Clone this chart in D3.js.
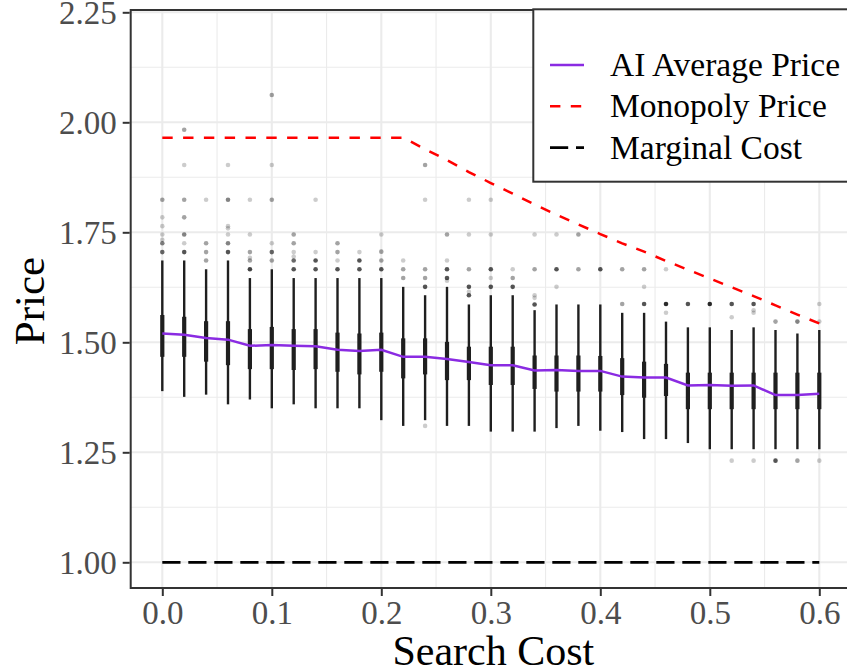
<!DOCTYPE html>
<html>
<head>
<meta charset="utf-8">
<script src="https://cdn.jsdelivr.net/npm/d3@7"></script>
<style>
  html, body { margin: 0; padding: 0; background: #fff; }
  svg { display: block; font-family: "Liberation Serif", "Times New Roman", serif; }
</style>
</head>
<body>
<svg id="chart" width="847" height="672"></svg>
<script>
// Search-cost grid
const searchCost = [0.00, 0.02, 0.04, 0.06, 0.08, 0.10, 0.12, 0.14, 0.16, 0.18, 0.20,
                    0.22, 0.24, 0.26, 0.28, 0.30, 0.32, 0.34, 0.36, 0.38, 0.40,
                    0.42, 0.44, 0.46, 0.48, 0.50, 0.52, 0.54, 0.56, 0.58, 0.60];

// Box-and-whisker summaries of AI prices at each search cost
const whiskerLow  = [1.389, 1.376, 1.381, 1.359, 1.370, 1.350, 1.359, 1.350, 1.350, 1.350, 1.323,
                     1.310, 1.323, 1.310, 1.310, 1.297, 1.297, 1.297, 1.305, 1.310, 1.299,
                     1.296, 1.280, 1.280, 1.271, 1.257, 1.257, 1.257, 1.257, 1.257, 1.257];
const boxLow      = [1.467, 1.467, 1.456, 1.448, 1.439, 1.439, 1.437, 1.439, 1.433, 1.427, 1.433,
                     1.418, 1.427, 1.414, 1.414, 1.403, 1.403, 1.394, 1.388, 1.388, 1.388,
                     1.380, 1.374, 1.378, 1.348, 1.348, 1.348, 1.348, 1.348, 1.348, 1.348];
const boxHigh     = [1.562, 1.558, 1.548, 1.548, 1.530, 1.535, 1.530, 1.530, 1.522, 1.520, 1.522,
                     1.509, 1.509, 1.501, 1.490, 1.490, 1.490, 1.470, 1.470, 1.470, 1.469,
                     1.464, 1.456, 1.451, 1.431, 1.431, 1.431, 1.431, 1.431, 1.431, 1.431];
const whiskerHigh = [1.686, 1.686, 1.666, 1.686, 1.646, 1.666, 1.646, 1.646, 1.646, 1.646, 1.646,
                     1.626, 1.607, 1.626, 1.586, 1.607, 1.607, 1.573, 1.586, 1.586, 1.586,
                     1.567, 1.567, 1.547, 1.534, 1.534, 1.528, 1.534, 1.528, 1.520, 1.528];

// Average AI price
const avgPrice = [1.520, 1.517, 1.510, 1.506, 1.492, 1.494, 1.492, 1.491, 1.483, 1.480, 1.483,
                  1.467, 1.467, 1.462, 1.455, 1.448, 1.448, 1.436, 1.437, 1.435, 1.435,
                  1.422, 1.420, 1.420, 1.402, 1.403, 1.401, 1.402, 1.380, 1.380, 1.383];

// Monopoly price
const monopolyPrice = [1.965, 1.965, 1.965, 1.965, 1.965, 1.965, 1.965, 1.965, 1.965, 1.965, 1.965,
                       1.965, 1.939, 1.914, 1.887, 1.862, 1.838, 1.813, 1.790, 1.768, 1.746,
                       1.725, 1.706, 1.685, 1.665, 1.645, 1.625, 1.605, 1.584, 1.563, 1.543];

const marginalCost = 1.0;

// Outlying prices: [search cost, price, number of overlapping observations]
const outliers = [
  [0.00, 1.824, 2], [0.00, 1.784, 1], [0.00, 1.764, 1], [0.00, 1.745, 1], [0.00, 1.733, 1], [0.00, 1.725, 3], [0.00, 1.705, 4],
  [0.02, 1.983, 2], [0.02, 1.903, 1], [0.02, 1.824, 2], [0.02, 1.784, 2], [0.02, 1.745, 3], [0.02, 1.725, 1], [0.02, 1.705, 5],
  [0.04, 1.824, 1], [0.04, 1.725, 2], [0.04, 1.705, 2], [0.04, 1.686, 2],
  [0.06, 1.903, 1], [0.06, 1.824, 3], [0.06, 1.764, 1], [0.06, 1.759, 1], [0.06, 1.745, 1], [0.06, 1.725, 3], [0.06, 1.705, 5],
  [0.08, 1.824, 1], [0.08, 1.745, 1], [0.08, 1.705, 2], [0.08, 1.692, 1], [0.08, 1.686, 2], [0.08, 1.666, 6],
  [0.10, 2.062, 2], [0.10, 1.903, 1], [0.10, 1.824, 2], [0.10, 1.725, 1], [0.10, 1.705, 4], [0.10, 1.686, 2],
  [0.12, 1.745, 2], [0.12, 1.725, 2], [0.12, 1.705, 1], [0.12, 1.695, 1], [0.12, 1.686, 4], [0.12, 1.666, 5],
  [0.14, 1.824, 1], [0.14, 1.705, 1], [0.14, 1.686, 5], [0.14, 1.666, 5],
  [0.16, 1.725, 2], [0.16, 1.705, 2], [0.16, 1.686, 1], [0.16, 1.666, 5],
  [0.18, 1.705, 1], [0.18, 1.686, 5], [0.18, 1.666, 5],
  [0.20, 1.745, 1], [0.20, 1.706, 2], [0.20, 1.686, 2], [0.20, 1.666, 5],
  [0.22, 1.686, 1], [0.22, 1.666, 2], [0.22, 1.646, 2],
  [0.24, 1.903, 2], [0.24, 1.824, 1], [0.24, 1.666, 2], [0.24, 1.646, 2], [0.24, 1.626, 5], [0.24, 1.310, 1],
  [0.26, 1.745, 2], [0.26, 1.686, 1], [0.26, 1.666, 5], [0.26, 1.646, 5], [0.26, 1.640, 1],
  [0.28, 1.824, 1], [0.28, 1.745, 1], [0.28, 1.666, 2], [0.28, 1.626, 5], [0.28, 1.615, 1], [0.28, 1.607, 5],
  [0.30, 1.824, 1], [0.30, 1.745, 1], [0.30, 1.666, 5], [0.30, 1.646, 1], [0.30, 1.626, 5],
  [0.32, 1.666, 1], [0.32, 1.646, 2], [0.32, 1.626, 5],
  [0.34, 1.745, 1], [0.34, 1.666, 2], [0.34, 1.607, 1], [0.34, 1.601, 1], [0.34, 1.586, 5],
  [0.36, 1.745, 1], [0.36, 1.666, 5], [0.36, 1.626, 1],
  [0.38, 1.745, 2], [0.38, 1.666, 2],
  [0.40, 1.666, 5],
  [0.42, 1.666, 2], [0.42, 1.587, 2],
  [0.44, 1.666, 2], [0.44, 1.626, 1], [0.44, 1.587, 5],
  [0.46, 1.666, 1], [0.46, 1.587, 8], [0.46, 1.567, 1],
  [0.48, 1.587, 5],
  [0.50, 1.587, 8],
  [0.52, 1.587, 5], [0.52, 1.557, 1], [0.52, 1.231, 1],
  [0.54, 1.587, 5], [0.54, 1.573, 1], [0.54, 1.567, 1], [0.54, 1.231, 1],
  [0.56, 1.547, 2], [0.56, 1.231, 5],
  [0.58, 1.547, 3], [0.58, 1.231, 2],
  [0.60, 1.587, 1], [0.60, 1.547, 1], [0.60, 1.231, 1]
];

const xTicks = [0.0, 0.1, 0.2, 0.3, 0.4, 0.5, 0.6];
const xMinor = [0.05, 0.15, 0.25, 0.35, 0.45, 0.55];
const yTicks = [1.00, 1.25, 1.50, 1.75, 2.00, 2.25];
const yMinor = [1.125, 1.375, 1.625, 1.875, 2.125];

const legendLabels = ["AI Average Price", "Monopoly Price", "Marginal Cost"];

// ---- layout ----
const panel = { left: 130.7, right: 856, top: 10, bottom: 588 };
const x = d3.scaleLinear().domain([0, 0.6]).range([162.3, 819.3]);
const y = d3.scaleLinear().domain([1, 2.25]).range([562.3, 12.3]);

const svg = d3.select("#chart");
const AXIS = "#333333";
const GRID = "#EBEBEB";

// panel background & grid
svg.append("rect").attr("x", panel.left).attr("y", panel.top)
  .attr("width", panel.right - panel.left).attr("height", panel.bottom - panel.top)
  .attr("fill", "#fff");

const grid = svg.append("g");
grid.selectAll(".xmin").data(xMinor).join("line")
  .attr("x1", d => x(d)).attr("x2", d => x(d))
  .attr("y1", panel.top).attr("y2", panel.bottom)
  .attr("stroke", GRID).attr("stroke-width", 1.1);
grid.selectAll(".ymin").data(yMinor).join("line")
  .attr("y1", d => y(d)).attr("y2", d => y(d))
  .attr("x1", panel.left).attr("x2", panel.right)
  .attr("stroke", GRID).attr("stroke-width", 1.1);
grid.selectAll(".xmaj").data(xTicks).join("line")
  .attr("x1", d => x(d)).attr("x2", d => x(d))
  .attr("y1", panel.top).attr("y2", panel.bottom)
  .attr("stroke", GRID).attr("stroke-width", 2.1);
grid.selectAll(".ymaj").data(yTicks).join("line")
  .attr("y1", d => y(d)).attr("y2", d => y(d))
  .attr("x1", panel.left).attr("x2", panel.right)
  .attr("stroke", GRID).attr("stroke-width", 2.1);

// outliers (semi-transparent black, darker where observations overlap)
svg.append("g").selectAll("circle").data(outliers).join("circle")
  .attr("cx", d => x(d[0])).attr("cy", d => y(d[1])).attr("r", 2.3)
  .attr("fill", "#000")
  .attr("fill-opacity", d => 1 - Math.pow(0.8, d[2]));

// whiskers and boxes
const boxes = svg.append("g");
boxes.selectAll(".wh").data(searchCost).join("line")
  .attr("x1", d => x(d)).attr("x2", d => x(d))
  .attr("y1", (d, i) => y(whiskerLow[i])).attr("y2", (d, i) => y(whiskerHigh[i]))
  .attr("stroke", "#1f1f1f").attr("stroke-width", 2.4);
boxes.selectAll(".bx").data(searchCost).join("line")
  .attr("x1", d => x(d)).attr("x2", d => x(d))
  .attr("y1", (d, i) => y(boxLow[i])).attr("y2", (d, i) => y(boxHigh[i]))
  .attr("stroke", "#1f1f1f").attr("stroke-width", 4.2);

// marginal cost
svg.append("path")
  .datum(searchCost)
  .attr("d", d3.line().x(d => x(d)).y(() => y(marginalCost)))
  .attr("fill", "none").attr("stroke", "#000").attr("stroke-width", 2.7)
  .attr("stroke-dasharray", "18.2,7.8");

// monopoly price
svg.append("path")
  .datum(searchCost)
  .attr("d", d3.line().x(d => x(d)).y((d, i) => y(monopolyPrice[i])))
  .attr("fill", "none").attr("stroke", "#FF0000").attr("stroke-width", 2.5)
  .attr("stroke-dasharray", "10.4,10.4");

// average AI price
svg.append("path")
  .datum(searchCost)
  .attr("d", d3.line().x(d => x(d)).y((d, i) => y(avgPrice[i])))
  .attr("fill", "none").attr("stroke", "#8A2BE2").attr("stroke-width", 2.5);

// panel border
svg.append("rect").attr("x", panel.left).attr("y", panel.top)
  .attr("width", panel.right - panel.left).attr("height", panel.bottom - panel.top)
  .attr("fill", "none").attr("stroke", AXIS).attr("stroke-width", 2);

// y axis
const yAxis = d3.axisLeft(y).tickValues(yTicks).tickFormat(d3.format(".2f")).tickSize(7).tickPadding(6);
const gy = svg.append("g").attr("transform", `translate(${panel.left - 1},0)`).call(yAxis);
gy.select(".domain").remove();
gy.selectAll(".tick line").attr("stroke", AXIS).attr("stroke-width", 2);
gy.selectAll(".tick text").attr("fill", "#4D4D4D").attr("font-size", 33)
  .attr("font-family", "Liberation Serif, serif").attr("dy", "0.33em");

// x axis
const xAxis = d3.axisBottom(x).tickValues(xTicks).tickFormat(d3.format(".1f")).tickSize(7).tickPadding(5);
const gx = svg.append("g").attr("transform", `translate(0,${panel.bottom + 1})`).call(xAxis);
gx.select(".domain").remove();
gx.selectAll(".tick line").attr("stroke", AXIS).attr("stroke-width", 2);
gx.selectAll(".tick text").attr("fill", "#4D4D4D").attr("font-size", 33)
  .attr("font-family", "Liberation Serif, serif").attr("dy", "0.71em");

// axis titles
svg.append("text").attr("x", (panel.left + panel.right) / 2).attr("y", 665)
  .attr("text-anchor", "middle").attr("font-size", 42).attr("fill", "#000")
  .text("Search Cost");
svg.append("text").attr("transform", "translate(44,301) rotate(-90)")
  .attr("text-anchor", "middle").attr("font-size", 43).attr("fill", "#000")
  .text("Price");

// legend
const lg = svg.append("g");
lg.append("rect").attr("x", 533.3).attr("y", 9.3).attr("width", 330).attr("height", 172.4)
  .attr("fill", "#fff").attr("stroke", AXIS).attr("stroke-width", 2);
const keyStyles = [
  { color: "#8A2BE2", dash: null, width: 2.5 },
  { color: "#FF0000", dash: "10.4,10.4", width: 2.5 },
  { color: "#000000", dash: "18.2,7.8", width: 2.7 }
];
legendLabels.forEach((label, i) => {
  const ky = 65 + i * 41.3;
  lg.append("line").attr("x1", 550).attr("x2", 584).attr("y1", ky).attr("y2", ky)
    .attr("stroke", keyStyles[i].color).attr("stroke-width", keyStyles[i].width)
    .attr("stroke-dasharray", keyStyles[i].dash);
  lg.append("text").attr("x", 610).attr("y", ky + 11).attr("font-size", 33.5).attr("fill", "#000")
    .text(label);
});
</script>
</body>
</html>
